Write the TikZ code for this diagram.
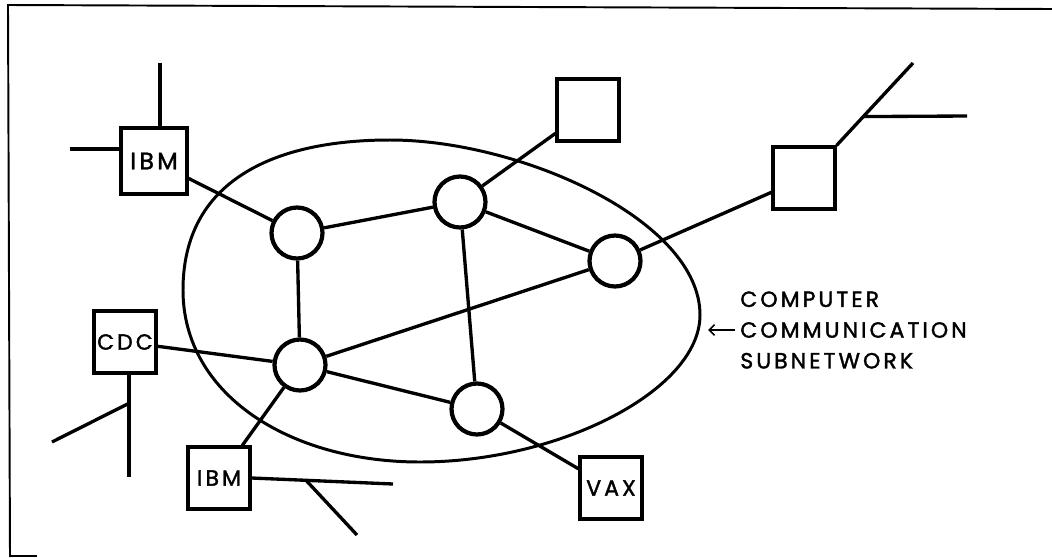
\documentclass[tikz,border=0pt]{standalone}
\usepackage{fontspec}
\newfontfamily\netfont[LetterSpace=14, FakeBold=1.6]{Poppins}
\usetikzlibrary{arrows.meta}

\begin{document}
\begin{tikzpicture}
	[
		x                   = 0.02cm,
		y                   = -0.02cm,
		every node/.style   = {font=\netfont},
		link/.style         = {draw, line width=1.9pt},
		switch/.style       = {circle, draw, line width=2.4pt, minimum size=1.02cm, inner sep=0pt},
		host/.style         = {rectangle, draw, line width=1.8pt, minimum size=1.24cm, inner sep=0pt,
			font=\netfont\fontsize{12.5}{15}\selectfont},
		subnet/.style       = {draw, line width=1.7pt}
	]
	\useasboundingbox (0,0) rectangle (1052,558);
	\draw[line width=1.1pt] (10,557) -- (8,5) -- (1052,9);
	\draw[line width=1.1pt] (10,556) -- (37,556);
	\draw[subnet] (183,290)
		.. controls (183,180) and (275,140) .. (390,140)
		.. controls (520,140) and (700,220) .. (700,315)
		.. controls (700,390) and (560,462) .. (420,462)
		.. controls (290,462) and (183,395) .. cycle;
	\node[switch] (A) at (297,233) {};
	\node[switch] (B) at (460,202) {};
	\node[switch] (C) at (615,261) {};
	\node[switch] (D) at (300,365) {};
	\node[switch] (E) at (477,409) {};
	\node[host, minimum size=1.32cm, font=\netfont\fontsize{13.5}{15}\selectfont] (ibmA) at (154,161) {IBM};
	\node[host] (top) at (588,110) {};
	\node[host] (right) at (804,178) {};
	\node[host] (cdc) at (125,342) {CDC};
	\node[host] (ibmB) at (219,478) {IBM};
	\node[host] (vax) at (611,488) {VAX};
	\node[anchor=west, align=left, inner sep=0pt,
		font=\netfont\fontsize{12.5}{17.5}\selectfont] (label) at (740,330)
		{COMPUTER\\COMMUNICATION\\SUBNETWORK};
	\draw[-{Straight Barb[length=3pt,width=6pt]}, line width=1pt]
		([xshift=-0.1cm]label.west) -- ++(-27,0);
	\draw[link] (ibmA) -- (A);
	\draw[link] (A) -- (B);
	\draw[link] (B) -- (top);
	\draw[link] (B) -- (C);
	\draw[link] (B) -- (E);
	\draw[link] (A) -- (D);
	\draw[link] (D) -- (C);
	\draw[link] (D) -- (E);
	\draw[link] (cdc) -- (D);
	\draw[link] (D) -- (ibmB);
	\draw[link] (E) -- (vax);
	\draw[link] (C) -- (right);
	\coordinate (ibmAtop) at (160,63);
	\coordinate (ibmAleft) at (70,149);
	\draw[link] (ibmA.north -| ibmAtop) -- (ibmAtop);
	\draw[link] (ibmA.west |- ibmAleft) -- (ibmAleft);
	\coordinate (rightTip) at (913,63);
	\coordinate (rightEnd) at (967,116);
	\draw[link] (right.north east) -- coordinate[pos=0.35] (rightBr) (rightTip);
	\draw[link] (rightBr) -- (rightEnd);
	\coordinate (cdcEnd) at (129,477);
	\coordinate (cdcTip) at (52,442);
	\draw[link] (cdc.south -| cdcEnd) -- coordinate[pos=0.28] (cdcBr) (cdcEnd);
	\draw[link] (cdcBr) -- (cdcTip);
	\coordinate (ibmBEnd) at (393,484);
	\coordinate (ibmBTip) at (357,535);
	\draw[link] (ibmB.east) -- coordinate[pos=0.385] (ibmBBr) (ibmBEnd);
	\draw[link] (ibmBBr) -- (ibmBTip);
\end{tikzpicture}
\end{document}
